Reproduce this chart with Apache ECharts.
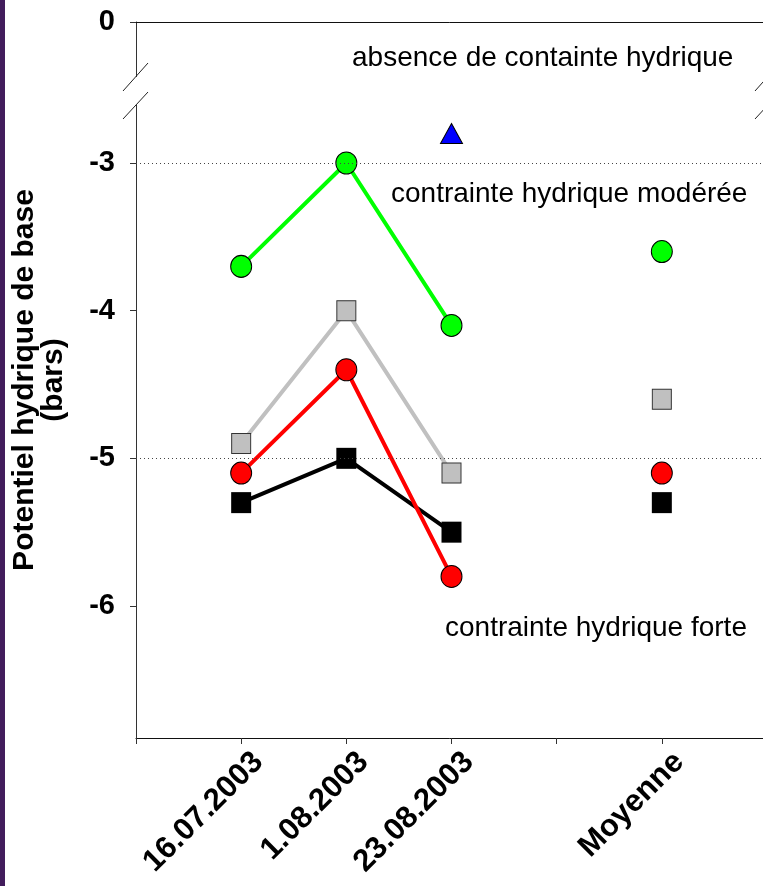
<!DOCTYPE html>
<html>
<head>
    <meta charset="utf-8">
    <title>Potentiel hydrique de base</title>
    <script type="text/javascript" src="https://cdn.jsdelivr.net/npm/echarts@6.0.0/dist/echarts.min.js"></script>
    <style>
        body {
            margin: 0px;
            padding: 0px;
            background: #ffffff;
        }
        #strip {
            position: absolute;
            left: 0;
            top: 0;
            width: 5px;
            height: 886px;
            background: #421d5c;
        }
        #chart {
            width: 763px;
            height: 886px;
        }
    </style>
</head>
<body>
<div id="strip"></div>
<div id="chart"></div>
<script type="text/javascript">
    // categories (blank slots keep the gap before "Moyenne")
    var categories = ['', '16.07.2003', '1.08.2003', '23.08.2003', '', 'Moyenne', ''];
    var greenVals = [null, -3.7, -3.0, -4.1, null, -3.6, null];
    var grayVals  = [null, -4.9, -4.0, -5.1, null, -4.6, null];
    var redVals   = [null, -5.1, -4.4, -5.8, null, -5.1, null];
    var blackVals = [null, -5.3, -5.0, -5.5, null, -5.3, null];
    var blueVals  = [null, null, null, -2.8, null, null, null];
    var yTicks = [-6, -5, -4, -3];
    var dottedLevels = [-3, -5];
    var yMin = -6.894, yTop = -2.045; // top of axis is the "0" after the break

    var font = "'Liberation Sans', Arial, sans-serif";
    var chart = echarts.init(document.getElementById('chart'));

    var option = {
        animation: false,
        backgroundColor: 'transparent',
        grid: {left: 136, width: 631, top: 22, bottom: 148, outerBoundsMode: 'none', containLabel: false},
        xAxis: [{
            type: 'category',
            data: categories,
            boundaryGap: false,
            axisLine: {lineStyle: {color: '#111', width: 1}},
            axisTick: {show: true, length: 6, alignWithLabel: true, interval: 0, lineStyle: {color: '#333'}},
            axisLabel: {
                interval: 0, rotate: 45, margin: 2,
                align: 'right', verticalAlign: 'top', padding: [9, 0, 0, 0],
                fontFamily: font, fontSize: 31, fontWeight: 'bold', color: '#000'
            },
            splitLine: {show: false}
        }, {
            type: 'category',
            position: 'top',
            data: categories,
            boundaryGap: false,
            axisLine: {lineStyle: {color: '#111', width: 1}},
            axisTick: {show: false},
            axisLabel: {show: false}
        }],
        yAxis: {
            type: 'value',
            min: yMin,
            max: yTop,
            axisLine: {show: true, lineStyle: {color: '#333', width: 1}},
            axisTick: {show: true, length: 6, customValues: yTicks.concat([yTop]), lineStyle: {color: '#333'}},
            axisLabel: {
                customValues: yTicks.concat([yTop]),
                margin: 21,
                fontFamily: font, fontSize: 29, fontWeight: 'bold', color: '#000',
                formatter: function (v) {
                    return Math.abs(v - yTop) < 1e-6 ? '0' : String(Math.round(v));
                }
            },
            splitLine: {show: false},
            name: 'Potentiel hydrique de base\n(bars)',
            nameLocation: 'middle',
            nameRotate: 90,
            nameGap: 68,
            nameTextStyle: {fontFamily: font, fontSize: 30, fontWeight: 'bold', color: '#000', lineHeight: 29}
        },
        series: [
            {
                type: 'line', data: grayVals,
                symbol: 'rect', symbolSize: [19, 20],
                lineStyle: {color: '#c0c0c0', width: 4},
                itemStyle: {color: '#c0c0c0', borderColor: '#333', borderWidth: 1},
                markLine: {
                    silent: true, symbol: 'none', label: {show: false},
                    lineStyle: {type: [1, 3], color: '#444', width: 1},
                    data: dottedLevels.map(function (v) { return {yAxis: v}; })
                }
            },
            {
                type: 'line', data: blackVals,
                symbol: 'rect', symbolSize: [20, 21],
                lineStyle: {color: '#000', width: 4},
                itemStyle: {color: '#000', borderColor: '#000', borderWidth: 0}
            },
            {
                type: 'line', data: redVals,
                symbol: 'circle', symbolSize: [21, 22],
                lineStyle: {color: '#ff0000', width: 4},
                itemStyle: {color: '#ff0000', borderColor: '#000', borderWidth: 1}
            },
            {
                type: 'line', data: greenVals,
                symbol: 'circle', symbolSize: [21, 22],
                lineStyle: {color: '#00ff00', width: 4},
                itemStyle: {color: '#00ff00', borderColor: '#000', borderWidth: 1}
            },
            {
                type: 'line', data: blueVals,
                symbol: 'triangle', symbolSize: [22, 20],
                lineStyle: {width: 0},
                itemStyle: {color: '#0000ff', borderColor: '#000', borderWidth: 1}
            }
        ],
        graphic: [
            // axis break: gap in the y axis plus double slashes
            {type: 'rect', shape: {x: 133, y: 77, width: 6, height: 28}, style: {fill: '#fff'}, z: 100},
            {type: 'line', shape: {x1: 123, y1: 91, x2: 148, y2: 63}, style: {stroke: '#222', lineWidth: 1}, z: 101},
            {type: 'line', shape: {x1: 123, y1: 119, x2: 148, y2: 92}, style: {stroke: '#222', lineWidth: 1}, z: 101},
            {type: 'line', shape: {x1: 755, y1: 91, x2: 780, y2: 63}, style: {stroke: '#222', lineWidth: 1}, z: 101},
            {type: 'line', shape: {x1: 755, y1: 119, x2: 780, y2: 92}, style: {stroke: '#222', lineWidth: 1}, z: 101},
            // zone annotations
            {type: 'text', x: 352, y: 58, style: {text: 'absence de containte hydrique', font: '28px ' + font, fill: '#000', verticalAlign: 'middle'}},
            {type: 'text', x: 391, y: 194, style: {text: 'contrainte hydrique modérée', font: '28px ' + font, fill: '#000', verticalAlign: 'middle'}},
            {type: 'text', x: 445, y: 628, style: {text: 'contrainte hydrique forte', font: '28px ' + font, fill: '#000', verticalAlign: 'middle'}}
        ]
    };
    chart.setOption(option);
</script>
</body>
</html>
